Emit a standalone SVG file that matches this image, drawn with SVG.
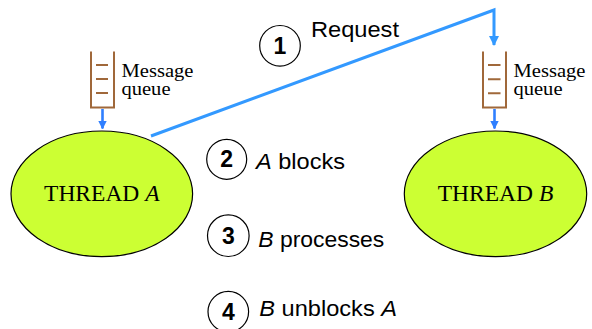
<svg xmlns="http://www.w3.org/2000/svg" width="592" height="329" viewBox="0 0 592 329">
  <defs>
    <marker id="arrow-big" viewBox="0 0 10 10" refX="9" refY="5" markerWidth="10" markerHeight="10" markerUnits="userSpaceOnUse" orient="auto">
      <path d="M0,0 L10,5 L0,10 z" fill="#3399ff"/>
    </marker>
    <marker id="arrow-small" viewBox="0 0 10 10" refX="9" refY="5" markerWidth="8.5" markerHeight="8.5" markerUnits="userSpaceOnUse" orient="auto">
      <path d="M0,0 L10,5 L0,10 z" fill="#2f7fff"/>
    </marker>
    <style>
      .thread { fill: #ccff33; stroke: #000; stroke-width: 1.2; }
      .tname { font-family: "Liberation Serif", serif; font-size: 23.5px; fill: #000; text-anchor: middle; }
      .queue { fill: none; stroke: #a0683a; stroke-width: 2; }
      .qlabel { font-family: "Liberation Serif", serif; font-size: 18.5px; fill: #000; }
      .flow { fill: none; stroke: #3399ff; stroke-width: 3; }
      .drop { fill: none; stroke: #2f7fff; stroke-width: 2.6; }
      .step { fill: #fff; stroke: #000; stroke-width: 1.2; }
      .num { font-family: "Liberation Sans", sans-serif; font-weight: bold; font-size: 23px; text-anchor: middle; fill: #000; }
      .lbl { font-family: "Liberation Sans", sans-serif; font-size: 22px; fill: #000; }
    </style>
  </defs>

  <!-- connectors -->
  <g id="connectors">
    <polyline class="flow" points="151,136 494,10 494,45" marker-end="url(#arrow-big)"/>
    <line class="drop" x1="102.5" y1="109" x2="102.5" y2="128.5" marker-end="url(#arrow-small)"/>
    <line class="drop" x1="494.5" y1="109" x2="494.5" y2="128.5" marker-end="url(#arrow-small)"/>
  </g>

  <!-- thread A with its message queue -->
  <g id="thread-a">
    <ellipse class="thread" cx="101.8" cy="193.8" rx="90.8" ry="62.8"/>
    <text class="tname" x="101.8" y="200.7">THREAD <tspan font-style="italic">A</tspan></text>
  </g>
  <g id="queue-a">
    <path class="queue" d="M91,51.5 V107.5 H114 V51.5"/>
    <path class="queue" d="M96,65 H108 M96,79 H108 M96,93 H108"/>
    <text class="qlabel" x="121.5" y="77.3" textLength="72" lengthAdjust="spacingAndGlyphs">Message</text>
    <text class="qlabel" x="121.5" y="95" textLength="49" lengthAdjust="spacingAndGlyphs">queue</text>
  </g>

  <!-- thread B with its message queue -->
  <g id="thread-b">
    <ellipse class="thread" cx="495.5" cy="193.8" rx="91.2" ry="62.8"/>
    <text class="tname" x="495.5" y="200.7">THREAD <tspan font-style="italic">B</tspan></text>
  </g>
  <g id="queue-b">
    <path class="queue" d="M483,51.5 V107.5 H506 V51.5"/>
    <path class="queue" d="M488,65 H500.5 M488,79.3 H500.5 M488,93.3 H500.5"/>
    <text class="qlabel" x="513.5" y="77.3" textLength="72" lengthAdjust="spacingAndGlyphs">Message</text>
    <text class="qlabel" x="513.5" y="95" textLength="49" lengthAdjust="spacingAndGlyphs">queue</text>
  </g>

  <!-- numbered steps -->
  <g id="step-1">
    <circle class="step" cx="280" cy="45.8" r="20.3"/>
    <text class="num" x="280" y="53.5">1</text>
    <text class="lbl" x="311" y="37.3" textLength="88" lengthAdjust="spacingAndGlyphs">Request</text>
  </g>
  <g id="step-2">
    <circle class="step" cx="226.7" cy="159.3" r="20"/>
    <text class="num" x="226.7" y="167">2</text>
    <text class="lbl" x="256" y="169.3" textLength="89" lengthAdjust="spacingAndGlyphs"><tspan font-style="italic">A</tspan> blocks</text>
  </g>
  <g id="step-3">
    <circle class="step" cx="228.3" cy="235.7" r="20.8"/>
    <text class="num" x="228.3" y="243.5">3</text>
    <text class="lbl" x="258.3" y="246.7" textLength="126" lengthAdjust="spacingAndGlyphs"><tspan font-style="italic">B</tspan> processes</text>
  </g>
  <g id="step-4">
    <circle class="step" cx="228.3" cy="311.7" r="20.3"/>
    <text class="num" x="228.3" y="319.5">4</text>
    <text class="lbl" x="259.3" y="316" textLength="137.7" lengthAdjust="spacingAndGlyphs"><tspan font-style="italic">B</tspan> unblocks <tspan font-style="italic">A</tspan></text>
  </g>
</svg>
